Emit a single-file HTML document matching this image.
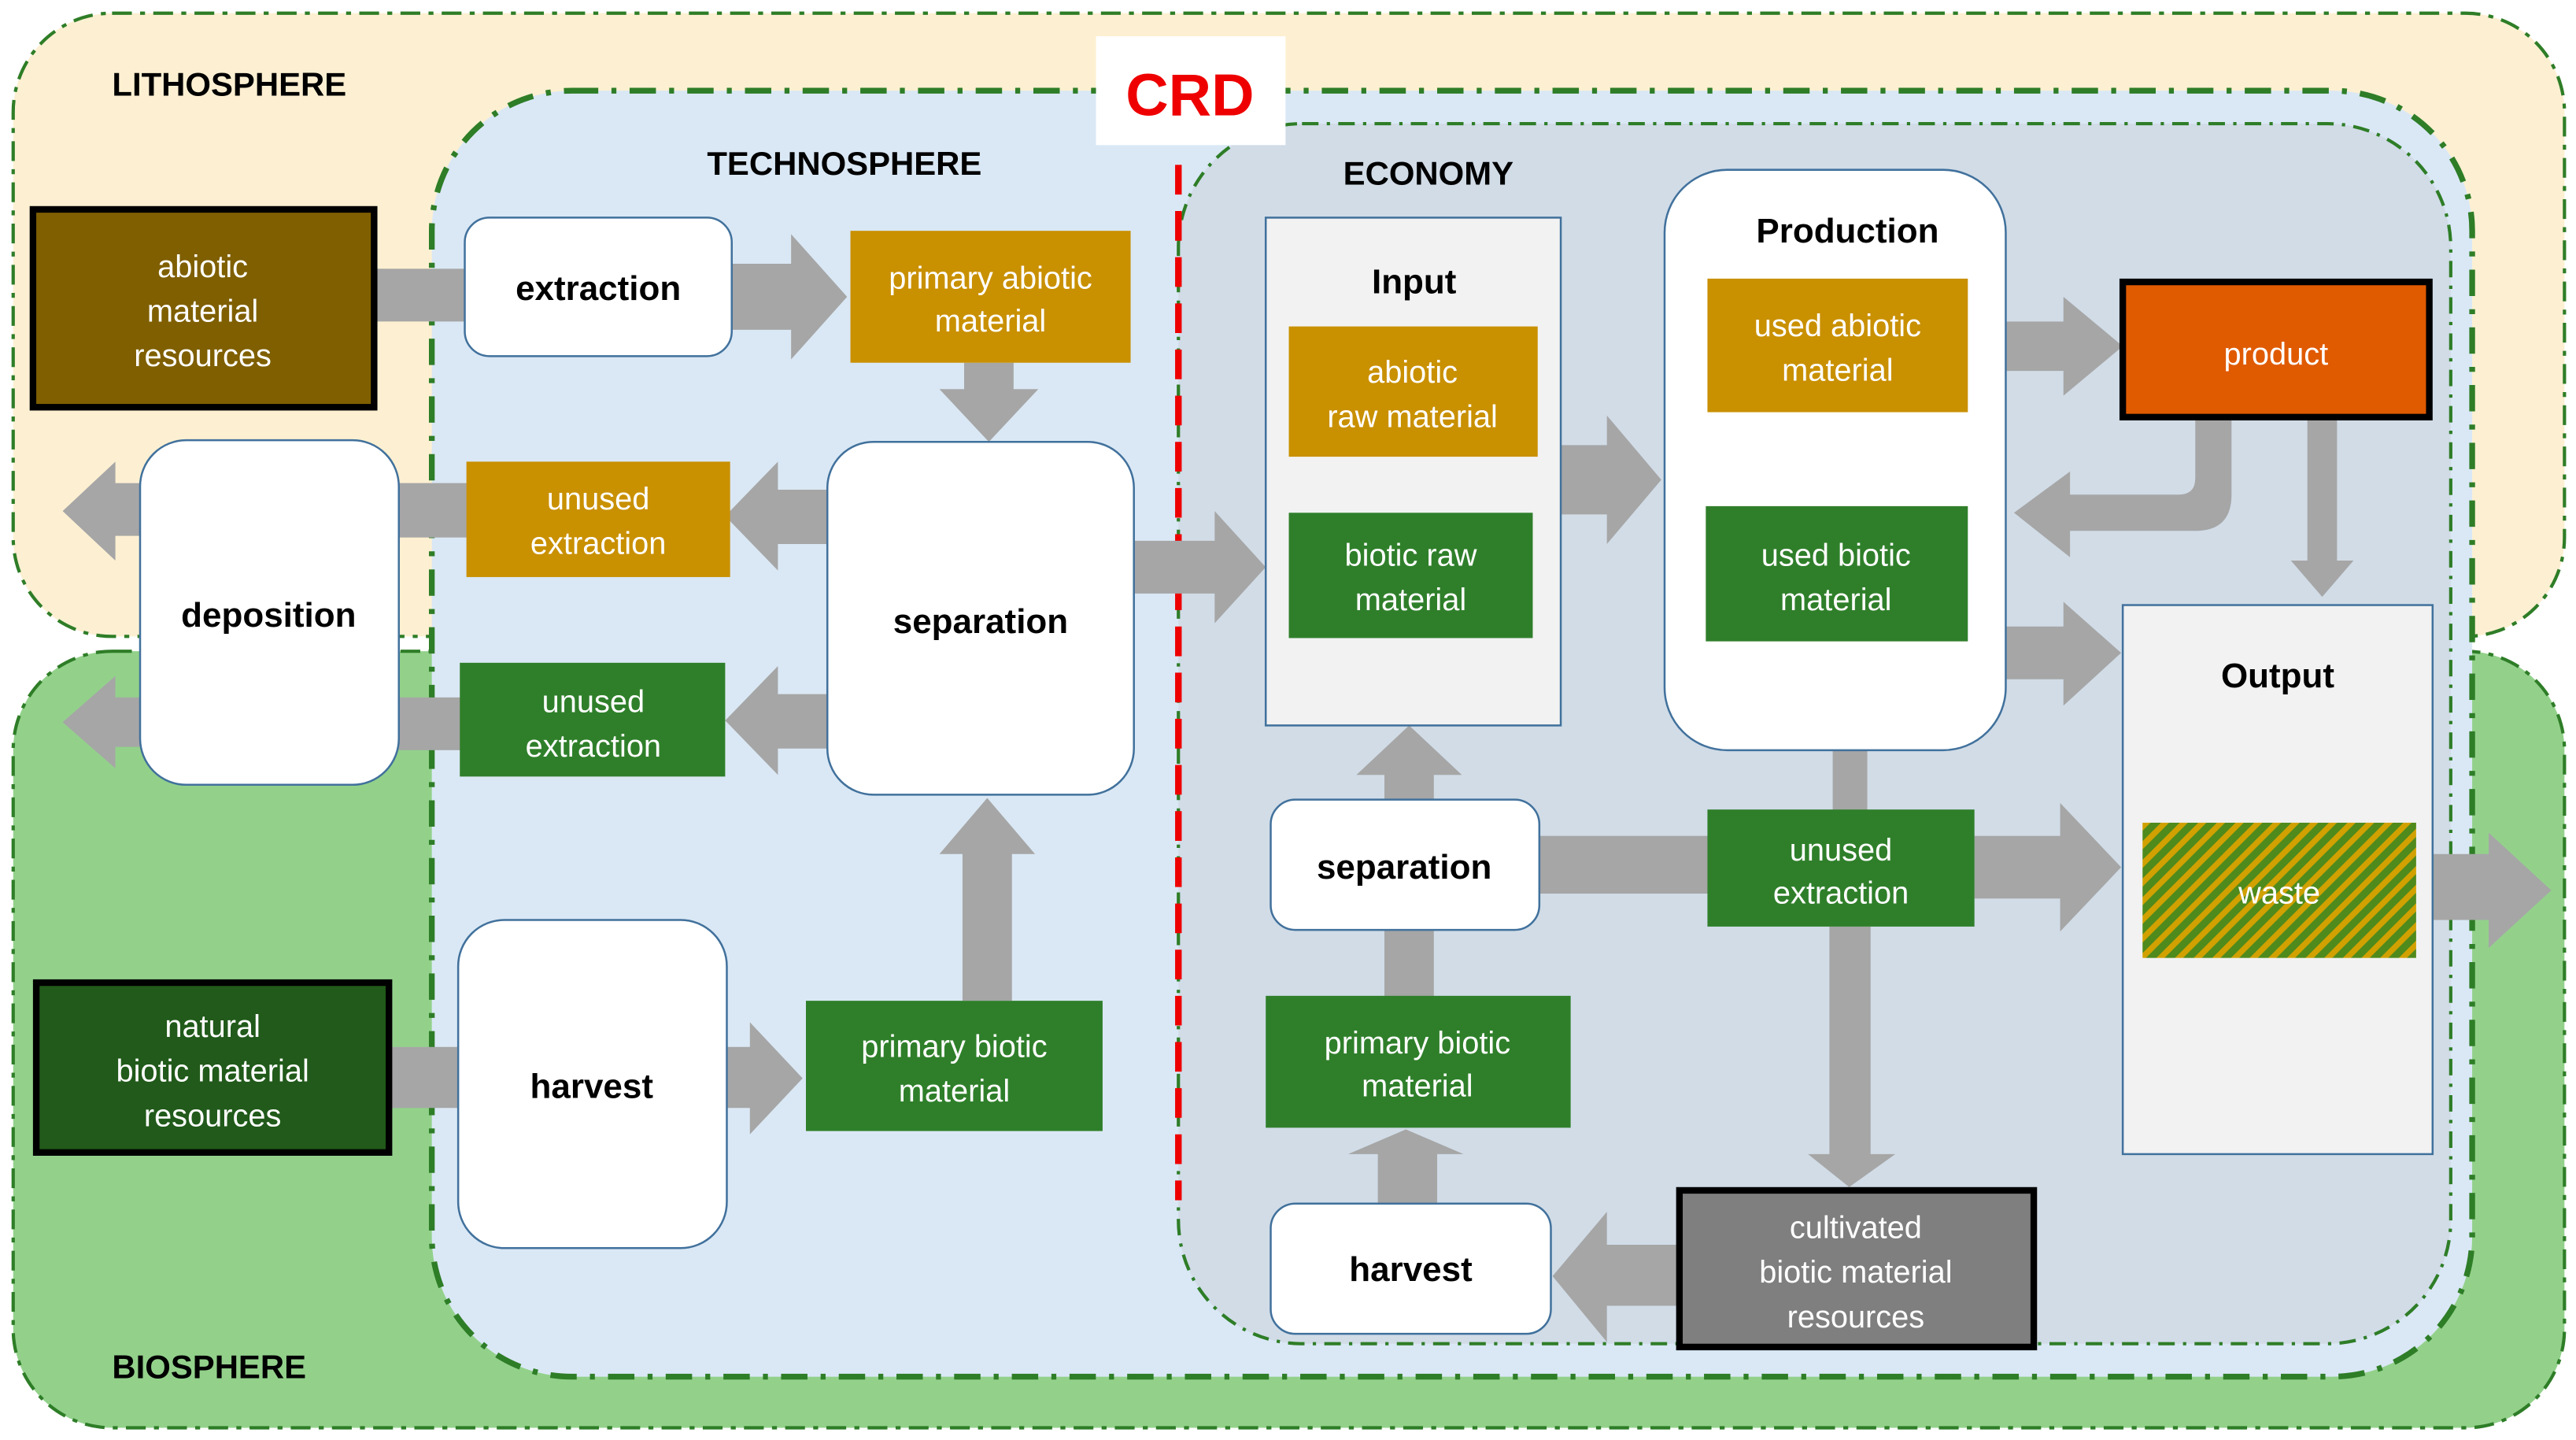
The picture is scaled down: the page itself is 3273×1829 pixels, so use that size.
<!DOCTYPE html>
<html><head><meta charset="utf-8"><style>
html,body{margin:0;padding:0;background:#fff;}
svg{display:block;}
text{font-family:"Liberation Sans",sans-serif;}
.w{fill:#fff;font-size:19px;text-anchor:middle;}
.b{fill:#000;font-size:21px;font-weight:bold;text-anchor:middle;}
.h{fill:#000;font-size:20px;font-weight:bold;}
.g{fill:#a6a6a6;}
</style></head><body>
<svg width="3273" height="1829" viewBox="0 0 1563 873.4" preserveAspectRatio="none" xmlns="http://www.w3.org/2000/svg">
<defs>
<pattern id="hatch" width="8" height="8" patternUnits="userSpaceOnUse" patternTransform="rotate(45)">
<rect width="8" height="8" fill="#4f8a1c"/><rect width="3.5" height="8" fill="#d1a100"/>
</pattern>
</defs>
<rect x="0" y="0" width="1563" height="874" fill="#fff"/>
<rect x="8" y="8" width="1548" height="378" rx="60" fill="#fdf0d2" stroke="#2e7d27" stroke-width="2" stroke-dasharray="12,5,3,5"/>
<rect x="8" y="395" width="1548" height="471" rx="60" fill="#93d18b" stroke="#2e7d27" stroke-width="2" stroke-dasharray="12,5,3,5"/>
<rect x="262" y="55" width="1238" height="780" rx="85" fill="#dae8f5" stroke="#2e7d27" stroke-width="3.5" stroke-dasharray="16,8,3,8"/>
<rect x="715" y="75" width="772" height="740" rx="75" fill="#d1dce7" stroke="#2e7d27" stroke-width="2" stroke-dasharray="10,5,2,5"/>
<rect x="665" y="22" width="115" height="66" fill="#fff"/>
<text x="722" y="70" font-size="36" font-weight="bold" fill="#ee0000" text-anchor="middle">CRD</text>
<line x1="715" y1="100" x2="715" y2="728" stroke="#ee0000" stroke-width="4" stroke-dasharray="18,10"/>
<text class="h" x="68" y="58">LITHOSPHERE</text>
<text class="h" x="429" y="106">TECHNOSPHERE</text>
<text class="h" x="815" y="112">ECONOMY</text>
<text class="h" x="68" y="836">BIOSPHERE</text>

<g class="g">
<rect x="227" y="163" width="56" height="32"/>
<polygon points="444,160 480,160 480,142 514,180 480,218 480,200 444,200"/>
<polygon points="585,220 615,220 615,236 630,236 600,268 570,236 585,236"/>
<polygon points="502,297 472,297 472,280 440,313 472,346 472,330 502,330"/>
<rect x="242" y="293" width="42" height="33"/>
<polygon points="86,293 70,293 70,280 38,310 70,340 70,325 86,325"/>
<polygon points="502,421 472,421 472,404 440,437 472,470 472,454 502,454"/>
<rect x="242" y="423" width="38" height="32"/>
<polygon points="86,423 70,423 70,410 38,438 70,466 70,453 86,453"/>
<rect x="236" y="635" width="43" height="37"/>
<polygon points="441,635 455,635 455,620 487,654 455,688 455,672 441,672"/>
<polygon points="584,607 614,607 614,518 628,518 599,484 570,518 584,518"/>
<polygon points="688,328 737,328 737,310 768,344 737,378 737,360 688,360"/>
<polygon points="947,270 975,270 975,252 1008,291 975,330 975,312 947,312"/>
<polygon points="1217,195 1252,195 1252,180 1288,210 1252,240 1252,225 1217,225"/>
<path d="M1332,253 L1354,253 L1354,300 Q1354,322 1332,322 L1256,322 L1256,338 L1222,311 L1256,286 L1256,300 L1322,300 Q1332,300 1332,290 Z"/>
<polygon points="1400,253 1418,253 1418,340 1428,340 1409,362 1390,340 1400,340"/>
<polygon points="1217,380 1252,380 1252,365 1287,396 1252,428 1252,412 1217,412"/>
<polygon points="840,485 870,485 870,470 887,470 855,440 823,470 840,470"/>
<rect x="840" y="563" width="30" height="42"/>
<polygon points="836,730 872,730 872,700 888,700 853,685 818,700 836,700"/>
<rect x="1112" y="455" width="21" height="37"/>
<rect x="934" y="507" width="103" height="35"/>
<polygon points="1198,507 1250,507 1250,487 1287,526 1250,565 1250,545 1198,545"/>
<polygon points="1110,562 1135,562 1135,700 1150,700 1122,720 1097,700 1110,700"/>
<polygon points="1019,755 975,755 975,735 942,774 975,814 975,792 1019,792"/>
<polygon points="1476,518 1510,518 1510,505 1548,540 1510,575 1510,558 1476,558"/>
</g>

<rect x="20" y="127" width="207" height="120" fill="#7f5f00" stroke="#000" stroke-width="4"/>
<text class="w" x="123" y="168">abiotic</text><text class="w" x="123" y="195">material</text><text class="w" x="123" y="222">resources</text>
<rect x="282" y="132" width="162" height="84" rx="15" fill="#fff" stroke="#41719c" stroke-width="1.2"/>
<text class="b" x="363" y="182">extraction</text>
<rect x="516" y="140" width="170" height="80" fill="#c99000"/>
<text class="w" x="601" y="175">primary abiotic</text><text class="w" x="601" y="201">material</text>
<rect x="85" y="267" width="157" height="209" rx="28" fill="#fff" stroke="#41719c" stroke-width="1.2"/>
<text class="b" x="163" y="380">deposition</text>
<rect x="283" y="280" width="160" height="70" fill="#c99000"/>
<text class="w" x="363" y="309">unused</text><text class="w" x="363" y="336">extraction</text>
<rect x="502" y="268" width="186" height="214" rx="28" fill="#fff" stroke="#41719c" stroke-width="1.2"/>
<text class="b" x="595" y="384">separation</text>
<rect x="279" y="402" width="161" height="69" fill="#2f7f2a"/>
<text class="w" x="360" y="432">unused</text><text class="w" x="360" y="459">extraction</text>
<rect x="278" y="558" width="163" height="199" rx="28" fill="#fff" stroke="#41719c" stroke-width="1.2"/>
<text class="b" x="359" y="666">harvest</text>
<rect x="489" y="607" width="180" height="79" fill="#2f7f2a"/>
<text class="w" x="579" y="641">primary biotic</text><text class="w" x="579" y="668">material</text>
<rect x="22" y="596" width="214" height="103" fill="#215a1a" stroke="#000" stroke-width="4"/>
<text class="w" x="129" y="629">natural</text><text class="w" x="129" y="656">biotic material</text><text class="w" x="129" y="683">resources</text>
<rect x="768" y="132" width="179" height="308" fill="#f2f2f2" stroke="#41719c" stroke-width="1.2"/>
<text class="b" x="858" y="178" font-size="24">Input</text>
<rect x="782" y="198" width="151" height="79" fill="#c99000"/>
<text class="w" x="857" y="232">abiotic</text><text class="w" x="857" y="259">raw material</text>
<rect x="782" y="311" width="148" height="76" fill="#2f7f2a"/>
<text class="w" x="856" y="343">biotic raw</text><text class="w" x="856" y="370">material</text>
<rect x="1010" y="103" width="207" height="352" rx="38" fill="#fff" stroke="#41719c" stroke-width="1.2"/>
<text class="b" x="1121" y="147" font-size="24">Production</text>
<rect x="1036" y="169" width="158" height="81" fill="#c99000"/>
<text class="w" x="1115" y="204">used abiotic</text><text class="w" x="1115" y="231">material</text>
<rect x="1035" y="307" width="159" height="82" fill="#2f7f2a"/>
<text class="w" x="1114" y="343">used biotic</text><text class="w" x="1114" y="370">material</text>
<rect x="1288" y="171" width="186" height="82" fill="#e05a00" stroke="#000" stroke-width="4"/>
<text class="w" x="1381" y="221">product</text>
<rect x="1288" y="367" width="188" height="333" fill="#f2f2f2" stroke="#41719c" stroke-width="1.2"/>
<text class="b" x="1382" y="417" font-size="24">Output</text>
<rect x="1300" y="499" width="166" height="82" fill="url(#hatch)"/>
<text class="w" x="1383" y="548">waste</text>
<rect x="771" y="485" width="163" height="79" rx="15" fill="#fff" stroke="#41719c" stroke-width="1.2"/>
<text class="b" x="852" y="533">separation</text>
<rect x="1036" y="491" width="162" height="71" fill="#2f7f2a"/>
<text class="w" x="1117" y="522">unused</text><text class="w" x="1117" y="548">extraction</text>
<rect x="768" y="604" width="185" height="80" fill="#2f7f2a"/>
<text class="w" x="860" y="639">primary biotic</text><text class="w" x="860" y="665">material</text>
<rect x="771" y="730" width="170" height="79" rx="15" fill="#fff" stroke="#41719c" stroke-width="1.2"/>
<text class="b" x="856" y="777">harvest</text>
<rect x="1019" y="722" width="215" height="95" fill="#7f7f7f" stroke="#000" stroke-width="4"/>
<text class="w" x="1126" y="751">cultivated</text><text class="w" x="1126" y="778">biotic material</text><text class="w" x="1126" y="805">resources</text>
</svg>
</body></html>
